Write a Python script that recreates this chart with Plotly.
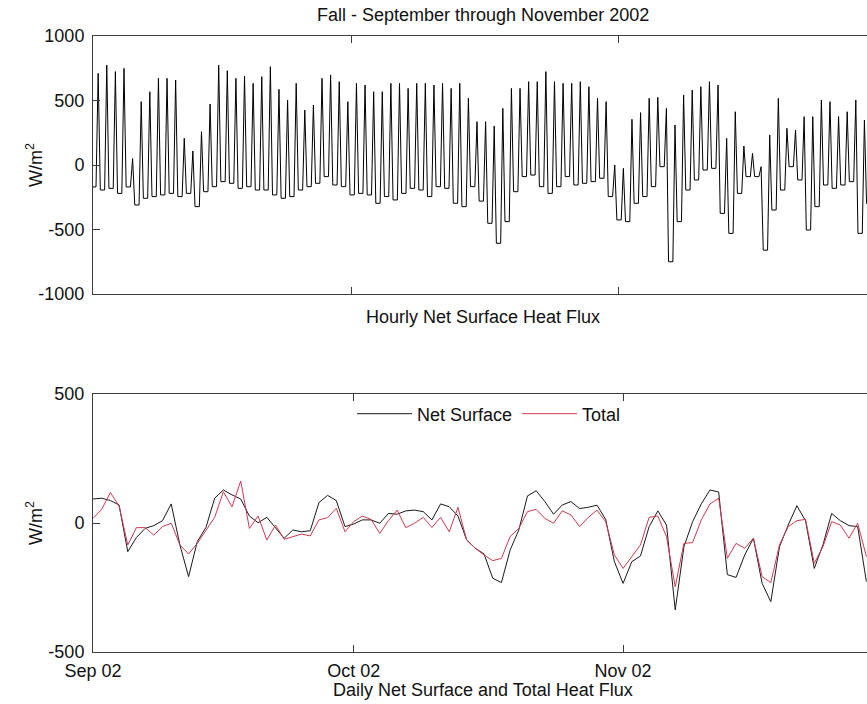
import pandas as pd
import plotly.graph_objects as go

# ---- data -------------------------------------------------------------
start = pd.Timestamp("2002-09-01")
n_days = 90

# daily mean fluxes (W/m^2), Sep 1 .. Nov 29 2002
daily_net = [
    93, 96, 87, 70, -111, -56, -21, -10, 9, 74,
    -85, -208, -72, -17, 96, 128, 109, 93, 27, 1,
    22, -17, -59, -27, -34, -30, 79, 107, 87, -14,
    -4, 12, 12, -1, 37, 34, 47, 50, 44, 12,
    74, 63, 27, -66, -98, -120, -214, -231, -105, -27,
    105, 125, 83, 34, 70, 83, 56, 61, 69, 14,
    -150, -234, -150, -128, -14, 47, -8, -337, -92, 5,
    74, 128, 120, -200, -211, -124, -59, -234, -305, -92,
    -8, 67, 9, -176, -85, 37, 9, -10, -14, -227,
]
daily_total = [
    18, 53, 118, 66, -85, -18, -18, -47, -14, -1,
    -85, -120, -79, -27, 22, 121, 63, 163, -21, 27,
    -66, -8, -63, -53, -43, -50, 12, 21, 57, -34,
    5, 27, 14, -40, 9, 50, -18, -1, 22, -17,
    22, -34, 61, -66, -98, -124, -146, -137, -53, -21,
    44, 53, 18, -1, 47, 31, -14, 22, 50, 5,
    -124, -176, -128, -85, 22, 27, -53, -247, -79, -76,
    12, 74, 96, -137, -79, -98, -59, -208, -231, -85,
    -14, 9, 14, -156, -92, 5, -8, -59, -1, -130,
]

# hourly net surface flux: afternoon peak of each day
peak_flux = [
    711, 775, 724, 749, 50, 491, 568, 672, 672, 659,
    207, 109, 258, 473, 775, 731, 672, 690, 633, 685,
    762, 587, 504, 633, 426, 465, 672, 698, 646, 491,
    633, 620, 568, 568, 633, 633, 594, 633, 633, 620,
    633, 594, 633, 517, 336, 336, 302, 439, 594, 594,
    646, 646, 724, 646, 633, 633, 646, 607, 517, 491,
    0, -26, 354, 406, 517, 525, 439, 310, 543, 581,
    607, 646, 620, 207, 413, 147, 90, -13, 233, 517,
    284, 271, 375, 375, 504, 491, 375, 413, 504, 349,
]
# hourly net surface flux: night-time level before each day's peak
night_flux = [
    -170, -194, -181, -220, -170, -310, -258, -245, -232, -220,
    -245, -220, -323, -207, -168, -129, -142, -181, -168, -194,
    -194, -232, -258, -245, -194, -168, -142, -90, -155, -168,
    -232, -220, -232, -297, -245, -271, -220, -181, -194, -245,
    -168, -181, -297, -323, -168, -280, -452, -607, -439, -207,
    -90, -78, -168, -220, -168, -90, -155, -142, -129, -103,
    -245, -426, -439, -297, -245, -168, -13, -750, -439, -194,
    -116, -39, -26, -375, -530, -220, -90, -90, -660, -349,
    -194, -13, -116, -504, -323, -155, -181, -155, -129, -530,
    -300,
]

month_ticks = [pd.Timestamp("2002-09-01"), pd.Timestamp("2002-10-01"),
               pd.Timestamp("2002-11-01")]
top_ticks = [-1000, -500, 0, 500, 1000]
bottom_ticks = [-500, 0, 500]

# ---- build hourly polyline (dawn, afternoon peak, dusk for each day) ----
day_starts = pd.date_range(start, periods=n_days, freq="D")
hourly_t = [start]
hourly_v = [night_flux[0]]
for d, t0 in enumerate(day_starts):
    hourly_t += [t0 + pd.Timedelta(hours=8.4),
                 t0 + pd.Timedelta(hours=14.4),
                 t0 + pd.Timedelta(hours=20.4)]
    hourly_v += [night_flux[d], peak_flux[d], night_flux[d + 1]]

# ---- figure ---------------------------------------------------------------
W, H = 867, 704
axis_col = "#3c3c3c"
txt_col = "#111111"


def py(px):
    """paper y from a pixel row"""
    return 1 - px / H


def px_x(px):
    """paper x from a pixel column (left margin 93)"""
    return (px - 93) / (W - 93)


fig = go.Figure()
fig.add_trace(go.Scatter(x=hourly_t, y=hourly_v, mode="lines",
                         line=dict(color="#000000", width=1),
                         xaxis="x", yaxis="y", showlegend=False))
fig.add_trace(go.Scatter(x=day_starts, y=daily_net, mode="lines",
                         name="Net Surface",
                         line=dict(color="#1a1a1a", width=1),
                         xaxis="x2", yaxis="y2"))
fig.add_trace(go.Scatter(x=day_starts, y=daily_total, mode="lines",
                         name="Total",
                         line=dict(color="#cf3a50", width=1),
                         xaxis="x2", yaxis="y2"))

common_axis = dict(showline=True, linecolor=axis_col, linewidth=1,
                   ticks="inside", ticklen=7, tickcolor=axis_col,
                   showgrid=False, zeroline=False, automargin=False,
                   tickfont=dict(size=18, color=txt_col))

fig.update_layout(
    width=W, height=H,
    margin=dict(l=93, r=0, t=0, b=0),
    paper_bgcolor="white", plot_bgcolor="white",
    font=dict(family="Liberation Sans, Arial, sans-serif", size=18,
              color=txt_col),
    xaxis=dict(common_axis, domain=[0, 1], anchor="y", type="date",
               range=[start, start + pd.Timedelta(days=89.9)],
               tickvals=month_ticks, showticklabels=False, mirror="ticks"),
    yaxis=dict(common_axis, domain=[py(294), py(36)], anchor="x",
               range=[-1000, 1000], tickvals=top_ticks,
               ticktext=[str(v) for v in top_ticks],
               ticklabelstandoff=4),
    xaxis2=dict(common_axis, domain=[0, 1], anchor="y2", type="date",
                range=[start, start + pd.Timedelta(days=89.07)],
                tickvals=month_ticks, tickformat="%b %y", mirror="ticks",
                ticklabelstandoff=2),
    yaxis2=dict(common_axis, domain=[py(652), py(394)], anchor="x2",
                range=[-500, 500], tickvals=bottom_ticks,
                ticktext=[str(v) for v in bottom_ticks],
                ticklabelstandoff=4),
    showlegend=True,
    legend=dict(orientation="h", x=px_x(352), xanchor="left",
                y=py(414), yanchor="middle", bgcolor="rgba(255,255,255,0)",
                font=dict(size=18, color=txt_col), itemwidth=55,
                tracegroupgap=0),
    annotations=[
        dict(text="Fall - September through November 2002", x=px_x(483),
             y=py(15), xref="paper", yref="paper", showarrow=False,
             xanchor="center", yanchor="middle"),
        dict(text="Hourly Net Surface Heat Flux", x=px_x(483), y=py(317),
             xref="paper", yref="paper", showarrow=False,
             xanchor="center", yanchor="middle"),
        dict(text="Daily Net Surface and Total Heat Flux", x=px_x(483),
             y=py(690), xref="paper", yref="paper", showarrow=False,
             xanchor="center", yanchor="middle"),
        dict(text="W/m<sup>2</sup>", x=px_x(34), y=py(165), xref="paper",
             yref="paper", showarrow=False, textangle=-90,
             xanchor="center", yanchor="middle"),
        dict(text="W/m<sup>2</sup>", x=px_x(34), y=py(523), xref="paper",
             yref="paper", showarrow=False, textangle=-90,
             xanchor="center", yanchor="middle"),
    ],
)

fig.write_html("out.html")
